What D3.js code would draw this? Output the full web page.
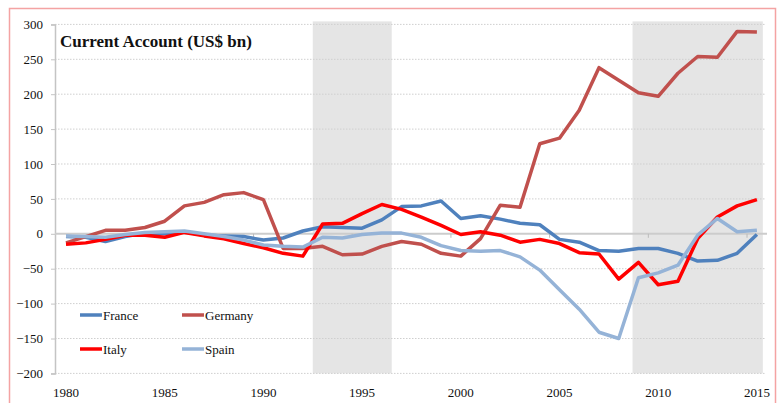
<!DOCTYPE html>
<html>
<head>
<meta charset="utf-8">
<script src="https://cdn.jsdelivr.net/npm/d3@7"></script>
<style>
	body { margin: 0; background: #fff; }
	svg text { font-family: "Liberation Serif", "Times New Roman", serif !important; }
</style>
</head>
<body>
<div id="chart"></div>
<script>
// data (US$ bn)
const years = d3.range(1980, 2016)
const france = [-4, -5, -11, -4, 1, 0, 3, -2, -3, -4, -9, -6, 4, 10, 9, 8, 20, 39, 40, 47, 22, 26, 21, 15, 13, -8, -12, -24, -25, -21, -21, -28, -39, -38, -28, -1]
const germany = [-13, -4, 5, 5, 9, 18, 40, 45, 56, 59, 49, -21, -21, -18, -30, -29, -18, -11, -15, -28, -32, -7, 41, 38, 129, 137, 177, 238, 220, 202, 197, 230, 254, 253, 290, 289]
const italy = [-15, -13, -8, -2, -2, -5, 2, -3, -7, -14, -20, -28, -32, 14, 15, 29, 42, 35, 24, 12, -1, 3, -2, -12, -8, -14, -27, -29, -65, -41, -73, -68, -7, 24, 40, 49]
const spain = [-3, -4, -5, -1, 2, 3, 4, 0, -4, -9, -16, -18, -19, -5, -6, -1, 1, 1, -5, -17, -24, -25, -24, -33, -52, -80, -108, -141, -150, -63, -56, -45, -2, 22, 3, 5]
const seriesNames = ["France", "Germany", "Italy", "Spain"]
const seriesColors = ["#4f81bd", "#c0504d", "#ff0000", "#95b3d7"]
const yTicks = [-200, -150, -100, -50, 0, 50, 100, 150, 200, 250, 300]
const xTicks = [1980, 1985, 1990, 1995, 2000, 2005, 2010, 2015]
const shaded = [[1992.5, 1996.5], [2008.7, 2015.3]]

const serif = "'Liberation Serif', 'Times New Roman', serif"

drawchart()

function drawchart() {
	const width = 778
	const height = 403

	const svg = d3.select("#chart")
		.append("svg")
		.attr("width", width)
		.attr("height", height)
		.style("font-family", serif)

	// pink frame
	svg.append("rect")
		.attr("x", 9.5)
		.attr("y", 8.5)
		.attr("width", 766)
		.attr("height", 420)
		.attr("fill", "none")
		.attr("stroke", "#f4a3a3")
		.attr("stroke-width", 1.5)

	const x = d3.scaleLinear()
		.domain([1980, 2015])
		.range([66, 756.9])

	const y = d3.scaleLinear()
		.domain([-200, 300])
		.range([373.4, 24.4])

	const plotLeft = 55
	const plotRight = 766

	// shaded periods
	svg.append("g")
		.selectAll("rect")
		.data(shaded)
		.join("rect")
		.attr("x", d => x(d[0]))
		.attr("y", y(300) - 3)
		.attr("width", d => x(d[1]) - x(d[0]))
		.attr("height", y(-200) - y(300) + 3)
		.attr("fill", "#e5e5e5")

	// dotted gridlines
	svg.append("g")
		.selectAll("line")
		.data(yTicks.filter(d => d != 0))
		.join("line")
		.attr("x1", plotLeft)
		.attr("x2", plotRight)
		.attr("y1", d => y(d))
		.attr("y2", d => y(d))
		.attr("stroke", "#cfcfcf")
		.attr("stroke-width", 1)
		.attr("stroke-dasharray", "1.5,1.5")

	// y axis
	const yAxis = d3.axisLeft(y)
		.tickValues(yTicks)
		.tickSize(4)
		.tickPadding(8)
	const ya = svg.append("g")
		.attr("class", "y-axis")
		.attr("transform", `translate(${plotLeft},0)`)
		.call(yAxis)
		.attr("font-family", serif)
	ya.select(".domain").attr("stroke", "#c4c4c4").attr("stroke-width", 1.5)
	ya.selectAll(".tick line").attr("stroke", "#c4c4c4")
	ya.selectAll(".tick text")
		.attr("font-size", "13px")
		.attr("fill", "#111")
		.style("font-family", serif)

	// zero line with small category ticks
	svg.append("line")
		.attr("x1", plotLeft)
		.attr("x2", plotRight + 1)
		.attr("y1", y(0))
		.attr("y2", y(0))
		.attr("stroke", "#cccccc")
		.attr("stroke-width", 2)
	svg.append("g")
		.selectAll("line")
		.data(xTicks.slice(1).map(d => d - 0.5))
		.join("line")
		.attr("x1", d => x(d))
		.attr("x2", d => x(d))
		.attr("y1", y(0))
		.attr("y2", y(0) + 4)
		.attr("stroke", "#bbbbbb")

	// x labels along the bottom
	svg.append("g")
		.selectAll("text")
		.data(xTicks)
		.join("text")
		.attr("x", d => x(d))
		.attr("y", 397)
		.attr("text-anchor", "middle")
		.attr("font-size", "13px")
		.attr("fill", "#111")
		.style("font-family", serif)
		.text(d => d)

	// lines
	const allSeries = [france, germany, italy, spain]
	const line = d3.line()
		.x((d, i) => x(years[i]))
		.y(d => y(d))

	svg.append("g")
		.selectAll("path")
		.data(allSeries)
		.join("path")
		.attr("d", d => line(d))
		.attr("fill", "none")
		.attr("stroke", (d, i) => seriesColors[i])
		.attr("stroke-width", 3.5)
		.attr("stroke-linejoin", "round")

	// title
	svg.append("text")
		.attr("x", 60)
		.attr("y", 47)
		.attr("font-size", "17px")
		.attr("font-weight", "bold")
		.attr("fill", "#111")
		.style("font-family", serif)
		.text("Current Account (US$ bn)")

	// legend
	const lenged = svg.append("g")
		.attr("id", "lenged")
		.selectAll("g")
		.data(seriesNames)
		.join("g")
		.attr("transform", (d, i) => `translate(${80 + (i % 2) * 102},${315 + Math.floor(i / 2) * 34})`)
	lenged.append("line")
		.attr("x1", 0)
		.attr("x2", 22)
		.attr("stroke", (d, i) => seriesColors[i])
		.attr("stroke-width", 3.5)
	lenged.append("text")
		.attr("x", 23)
		.attr("y", 5)
		.attr("font-size", "13px")
		.attr("fill", "#111")
		.style("font-family", serif)
		.text(d => d)
}
</script>
</body>
</html>
